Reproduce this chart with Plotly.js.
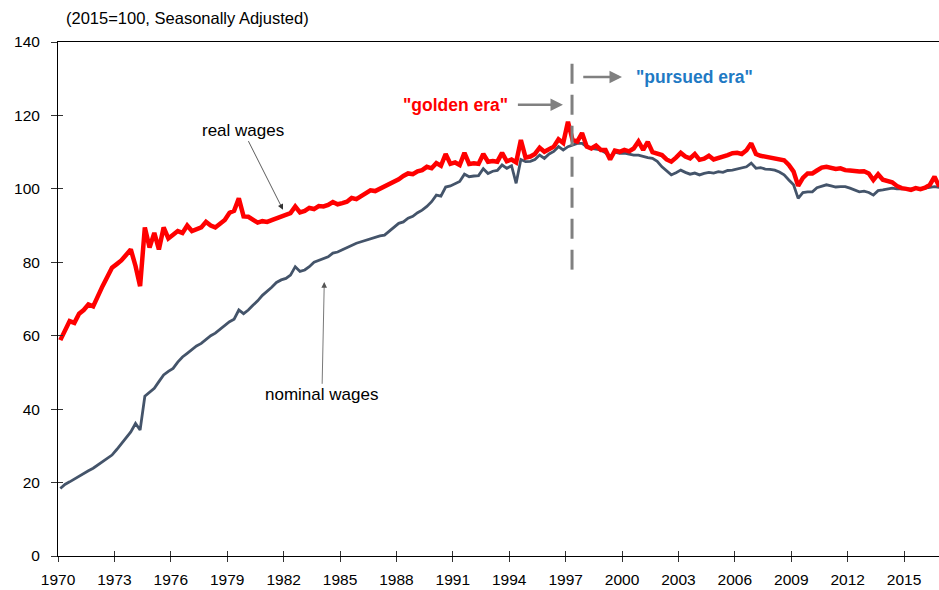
<!DOCTYPE html>
<html>
<head>
<meta charset="utf-8">
<script src="https://cdn.plot.ly/plotly-3.0.1.min.js"></script>
<style>html,body{margin:0;padding:0;background:#fff}#chart{width:939px;height:590px}</style>
</head>
<body>
<div id="chart"></div>
<script>
// Quarterly values, 1970 Q1 .. 2016 Q4 (2015 = 100, seasonally adjusted)
const startYear = 1970;
const realWages = [
 58.8, 61.5, 64.0, 63.5,
 66.0, 67.0, 68.5, 68.0,
 71.0, 73.5, 76.0, 78.5,
 79.5, 80.5, 82.0, 83.5,
 79.0, 73.5, 89.5, 84.0,
 88.0, 83.5, 89.5, 86.5,
 87.5, 88.5, 88.0, 90.0,
 88.5, 89.0, 89.5, 91.0,
 90.0, 89.5, 90.5, 91.5,
 93.5, 94.0, 97.4, 92.5,
 92.4, 91.5, 90.8, 91.2,
 91.0, 91.5, 92.0, 92.3,
 92.9, 93.4, 95.2, 93.6,
 94.0, 94.8, 94.5, 95.3,
 95.2, 95.6, 96.4, 95.8,
 96.1, 96.5, 97.5, 97.2,
 98.0, 98.8, 99.6, 99.4,
 100.0, 100.6, 101.5, 102.0,
 102.6, 103.5, 104.2, 104.0,
 104.8, 105.1, 106.0, 105.6,
 107.0, 106.3, 109.5, 106.8,
 107.2, 106.5, 109.8, 106.8,
 107.0, 106.8, 109.5, 107.4,
 107.6, 107.4, 109.8, 107.5,
 108.0, 107.2, 113.3, 108.5,
 108.8, 109.5, 111.2, 110.1,
 110.8, 111.5, 113.5, 112.5,
 118.3, 113.3, 112.9, 115.2,
 111.5, 111.0, 111.8, 110.6,
 110.6, 108.0, 110.4, 110.1,
 110.6, 110.2, 111.0, 112.9,
 110.6, 112.8, 110.0, 109.6,
 109.2, 108.0, 107.4, 108.5,
 109.8, 108.8, 108.3, 109.5,
 107.9, 108.2, 109.0, 108.0,
 108.3, 108.6, 109.2, 109.7,
 109.8, 109.5, 110.5, 112.4,
 109.5, 109.0, 108.8, 108.6,
 108.3, 108.3, 107.8, 106.5,
 104.7, 100.8, 103.0, 104.2,
 104.2, 105.0, 105.8, 106.0,
 105.8, 105.4, 105.6, 105.1,
 105.0, 104.8, 104.7, 104.8,
 104.2, 102.4, 104.0, 102.5,
 102.0, 101.8, 100.8, 100.2,
 100.0, 99.7, 100.2, 99.9,
 100.3, 101.1, 103.3, 100.6
];
const nominalWages = [
 18.4, 19.5, 20.2, 21.0,
 21.8, 22.5, 23.2, 23.9,
 24.8, 25.6, 26.6, 27.5,
 29.0, 30.5, 32.1, 33.8,
 36.1, 34.3, 43.5, 44.5,
 45.7, 47.5, 49.3, 50.3,
 51.1, 52.8, 54.2, 55.2,
 56.2, 57.2, 57.9, 59.0,
 60.0, 60.7, 61.8, 62.9,
 63.8, 64.5, 67.0, 66.0,
 67.0, 68.3, 69.5, 71.0,
 72.0, 73.2, 74.5, 75.2,
 75.6, 76.5, 78.8, 77.5,
 77.9, 78.8, 80.0, 80.5,
 81.1, 81.5, 82.5, 82.8,
 83.4, 84.0, 84.8, 85.2,
 85.6, 86.0, 86.5, 87.0,
 87.2, 87.4, 88.5, 89.6,
 90.6, 91.0, 92.0, 92.5,
 93.5, 94.2, 95.2, 96.5,
 98.3, 98.0, 100.5, 100.8,
 101.5, 102.0, 104.0, 103.3,
 103.5, 103.6, 105.5, 104.2,
 104.8, 105.0, 106.5, 105.6,
 106.3, 101.5, 108.0, 107.4,
 107.5, 108.0, 109.2, 108.3,
 109.5, 110.2, 111.5, 110.6,
 111.5, 112.0, 112.4, 112.4,
 111.5, 111.0, 110.8, 110.6,
 109.8, 108.8, 110.0, 109.7,
 109.7, 109.4, 109.2, 109.2,
 108.8, 108.5, 108.3, 107.5,
 106.0, 105.0, 103.8, 104.4,
 105.1, 104.5, 104.0, 104.3,
 103.8, 104.2, 104.5, 104.3,
 104.7, 104.5, 105.0, 105.1,
 105.4, 105.5, 106.0, 107.0,
 105.6, 105.8, 105.4, 105.3,
 105.1, 104.6, 103.8, 102.4,
 101.1, 97.4, 99.0, 99.2,
 99.2, 100.3, 100.8, 101.1,
 100.8, 100.5, 100.6, 100.6,
 100.2, 99.8, 99.2, 99.4,
 99.0, 98.3, 99.5, 99.7,
 100.0, 100.2, 100.0, 100.1,
 100.0, 99.9, 100.2, 100.0,
 100.2, 100.3, 100.6, 100.4
];
const yTicks = [0, 20, 40, 60, 80, 100, 120, 140];
const eraBreakDate = '1997-05-05';
const eraBreakY = [78, 136.5];
const subtitle = '(2015=100, Seasonally Adjusted)';

const dates = realWages.map((_, i) => {
  const y = startYear + Math.floor(i / 4);
  const m = 2 + 3 * (i % 4);
  return y + '-' + String(m).padStart(2, '0') + '-15';
});

const font = 'Liberation Sans, Arial, sans-serif';
const traces = [
  {x: dates, y: nominalWages, type: 'scatter', mode: 'lines',
   line: {color: '#44546a', width: 2.8}, name: 'nominal wages', hoverinfo: 'skip'},
  {x: dates, y: realWages, type: 'scatter', mode: 'lines',
   line: {color: '#ff0000', width: 4.5}, name: 'real wages', hoverinfo: 'skip'},
  {x: [eraBreakDate, eraBreakDate], y: eraBreakY, type: 'scatter', mode: 'lines',
   line: {color: '#808080', width: 3, dash: '20px,11px'}, hoverinfo: 'skip'},
  {x: [dates[0]], y: [0], xaxis: 'x2', yaxis: 'y2', mode: 'markers',
   marker: {opacity: 0}, hoverinfo: 'skip'}
];

const xRange = ['1970-01-01', '2016-11-10'];
const yRange = [0, 140];
const layout = {
  width: 939, height: 590,
  margin: {l: 58, r: 0, t: 42, b: 34},
  paper_bgcolor: '#fff', plot_bgcolor: '#fff',
  showlegend: false,
  font: {family: font, size: 15.5, color: '#000'},
  xaxis: {type: 'date', range: xRange, tick0: '1970-01-01', dtick: 'M36', tickformat: '%Y',
    showgrid: false, zeroline: false, showline: true, linecolor: '#000', linewidth: 1, mirror: true,
    ticks: 'outside', ticklen: 5, tickcolor: '#333', tickwidth: 1, ticklabelstandoff: 4},
  yaxis: {range: yRange, tickvals: yTicks, showgrid: false, zeroline: false,
    showline: true, linecolor: '#000', linewidth: 1,
    ticks: 'outside', ticklen: 6, tickcolor: '#333', tickwidth: 1, ticklabelstandoff: 8},
  xaxis2: {type: 'date', range: xRange, tick0: '1970-01-01', dtick: 'M36', overlaying: 'x',
    showgrid: false, zeroline: false, showline: false, showticklabels: false,
    ticks: 'inside', ticklen: 5, tickcolor: '#333', tickwidth: 1},
  yaxis2: {range: yRange, tickvals: yTicks, overlaying: 'y', side: 'left',
    showgrid: false, zeroline: false, showline: false, showticklabels: false,
    ticks: 'inside', ticklen: 5, tickcolor: '#333', tickwidth: 1},
  annotations: [
    {xref: 'paper', yref: 'paper', x: 0.007, y: 1.0, yshift: 24, xanchor: 'left', yanchor: 'middle',
     text: subtitle, showarrow: false, font: {size: 16.5, color: '#000'}},
    {x: '1981-12-20', y: 94.3, ax: '1979-11-01', ay: 116, axref: 'x', ayref: 'y',
     text: 'real wages', showarrow: true, arrowhead: 2, arrowsize: 1.4, arrowwidth: 0.8,
     arrowcolor: '#333', font: {size: 17, color: '#000'}, standoff: 0},
    {x: '1984-03-01', y: 74.6, ax: '1984-01-15', ay: 43.9, axref: 'x', ayref: 'y',
     text: 'nominal wages', showarrow: true, arrowhead: 2, arrowsize: 1.4, arrowwidth: 0.8,
     arrowcolor: '#555', font: {size: 17, color: '#000'}},
    {x: '1991-03-01', y: 122.9, text: '<b>"golden era"</b>', showarrow: false,
     font: {size: 17.5, color: '#ff0000'}},
    {x: '1996-11-10', y: 122.9, ax: '1994-05-20', ay: 122.9, axref: 'x', ayref: 'y',
     text: '', showarrow: true, arrowhead: 2, arrowsize: 1, arrowwidth: 2.5, arrowcolor: '#808080'},
    {x: '2003-11-01', y: 130.5, xanchor: 'center', text: '<b>"pursued era"</b>', showarrow: false,
     font: {size: 17.5, color: '#1f7ac4'}},
    {x: '2000-01-01', y: 130.5, ax: '1997-11-10', ay: 130.5, axref: 'x', ayref: 'y',
     text: '', showarrow: true, arrowhead: 2, arrowsize: 1, arrowwidth: 2.5, arrowcolor: '#808080'}
  ]
};

Plotly.newPlot('chart', traces, layout, {displayModeBar: false, staticPlot: true});
</script>
</body>
</html>
